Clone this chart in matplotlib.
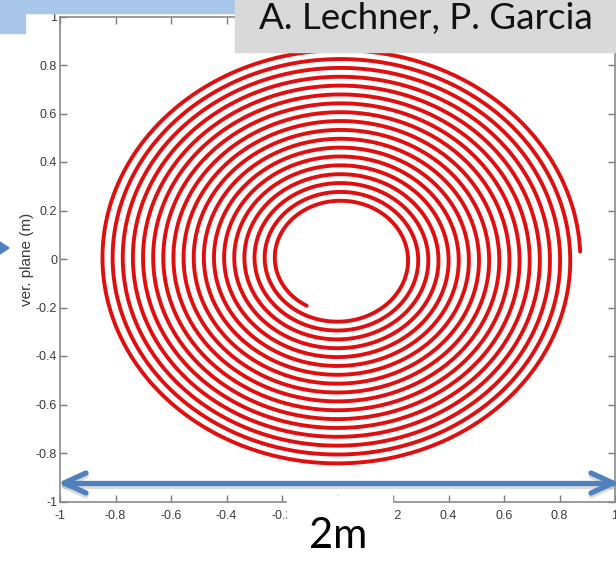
import numpy as np
import matplotlib
matplotlib.use("Agg")
import matplotlib.pyplot as plt
from matplotlib.patches import Rectangle, Polygon
from matplotlib.lines import Line2D

# Spiral description (metres)
center_x = 0.005
center_y = 0.0
r_inner = 0.225
r_outer = 0.87
start_angle_deg = 239.0
sweep_deg = 6357.0          # clockwise sweep from the inner end
tick_values = [-1, -0.8, -0.6, -0.4, -0.2, 0, 0.2, 0.4, 0.6, 0.8, 1]
tick_labels = ["-1", "-0.8", "-0.6", "-0.4", "-0.2", "0", "0.2", "0.4", "0.6", "0.8", "1"]
y_label = "ver. plane (m)"
credit = "A. Lechner, P. Garcia"
span_label = "2m"

W, H = 616, 562
fig = plt.figure(figsize=(W / 100, H / 100), dpi=100)
fig.patch.set_facecolor("white")


def fx(px):
    return px / W


def fy(py):
    return 1 - py / H


ax = fig.add_axes([fx(60), fy(501.5), fx(615) - fx(60), fy(16.5) - fy(501.5)])

# Archimedean spiral, radius growing clockwise
t = np.linspace(0, 1, 10000)
theta = np.deg2rad(start_angle_deg - sweep_deg * t)
r = r_inner + (r_outer - r_inner) * t
ax.plot(center_x + r * np.cos(theta), center_y + r * np.sin(theta),
        color="#e00f0f", lw=2.8, solid_capstyle="round", zorder=3)

ax.set_xlim(-1, 1)
ax.set_ylim(-1, 1)
ax.set_xticks(tick_values)
ax.set_yticks(tick_values)
ax.set_xticklabels(tick_labels)
ax.set_yticklabels(tick_labels)
ax.tick_params(direction="in", length=5, width=1, colors="#7a7a7a",
               labelcolor="#3a3a3a", labelsize=9, top=True, right=True)
ax.tick_params(axis="x", pad=6)
ax.tick_params(axis="y", pad=2)
for lab in ax.get_xticklabels() + ax.get_yticklabels():
    lab.set_family(["Liberation Sans Narrow", "Liberation Sans"])
for s in ax.spines.values():
    s.set_color("#8a8a8a")
    s.set_linewidth(1.2)
ax.set_ylabel(y_label, fontsize=11, color="#3a3a3a",
              family=["Liberation Sans"])
ax.yaxis.set_label_coords(-0.047, 0.5)

# Slide decorations
fig.add_artist(Rectangle((fx(0), fy(13)), fx(260), fy(0) - fy(13),
                         transform=fig.transFigure, color="#a9c5e9", zorder=5))
fig.add_artist(Rectangle((fx(0), fy(33)), fx(25), fy(0) - fy(33),
                         transform=fig.transFigure, color="#a9c5e9", zorder=5))
fig.add_artist(Rectangle((fx(235), fy(52)), fx(616) - fx(235), fy(0) - fy(52),
                         transform=fig.transFigure, color="#d9d9d9", zorder=6))
fig.text(fx(426), fy(29), credit, fontsize=26.5, family="Lato", color="#111111",
         ha="center", va="baseline", zorder=7)

# Left pointer head
fig.add_artist(Polygon([(fx(0), fy(242)), (fx(9), fy(248)), (fx(0), fy(254))],
                       closed=True, transform=fig.transFigure,
                       color="#4f81bd", zorder=7))

# Double-headed span arrow with a soft shadow
ya = 483
for dy, col, alpha in [(3, "#9a9a9a", 0.35), (0, "#4f81bd", 1.0)]:
    kw = dict(transform=fig.transFigure, color=col, alpha=alpha, lw=3.8,
              solid_capstyle="round", solid_joinstyle="round", zorder=8)
    fig.add_artist(Line2D([fx(64), fx(613)], [fy(ya + dy), fy(ya + dy)], **kw))
    fig.add_artist(Line2D([fx(86), fx(64), fx(86)],
                          [fy(ya + dy - 10), fy(ya + dy), fy(ya + dy + 10)], **kw))
    fig.add_artist(Line2D([fx(591), fx(613), fx(591)],
                          [fy(ya + dy - 10), fy(ya + dy), fy(ya + dy + 10)], **kw))

# Span caption on a white patch
fig.add_artist(Rectangle((fx(287), fy(562)), fx(392) - fx(287), fy(496) - fy(562),
                         transform=fig.transFigure, color="white", zorder=9))
fig.text(fx(338), fy(548), span_label, fontsize=30, family="Lato",
         color="#000000", ha="center", va="baseline", zorder=10)

fig.savefig("out.png", dpi=100)
